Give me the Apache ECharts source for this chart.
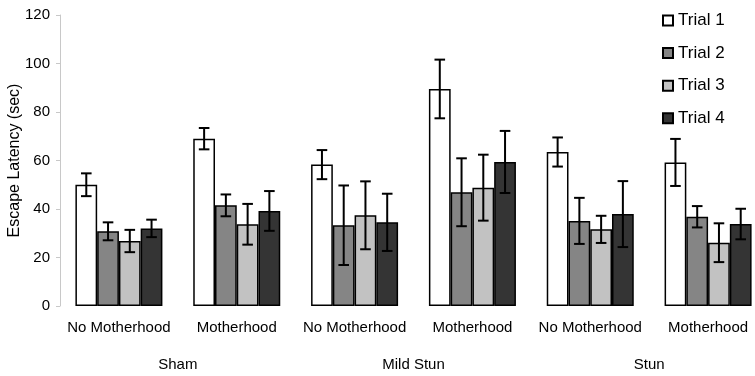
<!DOCTYPE html>
<html>
<head>
<meta charset="utf-8">
<script src="https://cdn.jsdelivr.net/npm/echarts@6/dist/echarts.min.js"></script>
<style>
html, body { margin: 0; padding: 0; background: #fff; }
#chart { width: 755px; height: 376px; }
</style>
</head>
<body>
<div id="chart"></div>
<script>
// conditions (lower axis) and groups (second row)
var categories = ['No Motherhood', 'Motherhood', 'No Motherhood', 'Motherhood', 'No Motherhood', 'Motherhood'];
var groups = ['Sham', 'Mild Stun', 'Stun'];
var trials = ['Trial 1', 'Trial 2', 'Trial 3', 'Trial 4'];
var yTicks = [0, 20, 40, 60, 80, 100, 120];

// mean escape latency and error (sec), per trial
var trial1 = [50, 69, 58.3, 89.5, 63.5, 59.2];
var trial1Err = [4.7, 4.4, 6, 12.1, 6, 9.7];
var trial2 = [30.8, 41.5, 33.3, 46.9, 35.1, 36.8];
var trial2Err = [3.7, 4.5, 16.4, 14, 9.5, 4.4];
var trial3 = [26.8, 33.7, 37.4, 48.8, 31.6, 26.1];
var trial3Err = [4.6, 8.4, 14, 13.6, 5.6, 8];
var trial4 = [32, 39.2, 34.5, 59.4, 37.9, 33.8];
var trial4Err = [3.6, 8.2, 11.8, 12.8, 13.6, 6.3];

var means = [trial1, trial2, trial3, trial4];
var errs = [trial1Err, trial2Err, trial3Err, trial4Err];
var colors = ['#ffffff', '#858585', '#c2c2c2', '#343434'];

var barFrac = 0.1846; // share of the band taken by one bar
var font = 'Arial, "Liberation Sans", sans-serif';

var errData = [];
for (var t = 0; t < 4; t++) {
    for (var i = 0; i < categories.length; i++) {
        errData.push([i, t, means[t][i] - errs[t][i], means[t][i] + errs[t][i]]);
    }
}

var series = [];
for (var t = 0; t < 4; t++) {
    series.push({
        name: trials[t],
        type: 'bar',
        xAxisIndex: 0,
        barWidth: (barFrac * 100) + '%',
        barGap: '0%',
        itemStyle: { color: colors[t], borderColor: '#000', borderWidth: 1.5 },
        data: means[t],
        silent: true
    });
}
series.push({
    type: 'custom',
    xAxisIndex: 0,
    silent: true,
    z: 10,
    data: errData,
    renderItem: function (params, api) {
        var idx = api.value(0);
        var t = api.value(1);
        var band = api.size([1, 0])[0];
        var bw = band * barFrac;
        var center = api.coord([idx, 0])[0];
        var x = center + (t - 1.5) * bw;
        var lo = api.coord([idx, api.value(2)])[1];
        var hi = api.coord([idx, api.value(3)])[1];
        var cap = 5.3;
        var st = { stroke: '#000', lineWidth: 2 };
        return {
            type: 'group',
            children: [
                { type: 'line', shape: { x1: x, y1: lo, x2: x, y2: hi }, style: st },
                { type: 'line', shape: { x1: x - cap, y1: lo, x2: x + cap, y2: lo }, style: st },
                { type: 'line', shape: { x1: x - cap, y1: hi, x2: x + cap, y2: hi }, style: st }
            ]
        };
    }
});

var chart = echarts.init(document.getElementById('chart'));
chart.setOption({
    animation: false,
    backgroundColor: '#fff',
    textStyle: { fontFamily: font },
    grid: { left: 60, right: -12, top: 15, bottom: 70, outerBoundsMode: 'none', containLabel: false },
    legend: {
        data: trials,
        orient: 'vertical',
        left: 662,
        top: 12,
        padding: 0,
        icon: 'rect',
        itemWidth: 10,
        itemHeight: 10,
        itemGap: 15.6,
        textStyle: { fontSize: 17, color: '#000', fontFamily: font }
    },
    xAxis: [
        {
            type: 'category',
            data: categories,
            position: 'bottom',
            axisLine: { show: false },
            axisTick: { show: false },
            axisLabel: { fontSize: 15, color: '#000', margin: 14, interval: 0, fontFamily: font }
        },
        {
            type: 'category',
            data: groups,
            position: 'bottom',
            axisLine: { show: false },
            axisTick: { show: false },
            axisLabel: { fontSize: 15, color: '#000', margin: 51, interval: 0, fontFamily: font }
        }
    ],
    yAxis: {
        type: 'value',
        min: yTicks[0],
        max: yTicks[yTicks.length - 1],
        interval: 20,
        name: 'Escape Latency (sec)',
        nameLocation: 'middle',
        nameGap: 37,
        nameMoveOverlap: false,
        nameTextStyle: { fontSize: 16, color: '#000', fontFamily: font },
        axisLine: { show: true, lineStyle: { color: '#c8c8c8', width: 1 } },
        axisTick: { show: true, length: 4, lineStyle: { color: '#c8c8c8' } },
        splitLine: { show: false },
        axisLabel: { fontSize: 15, color: '#000', margin: 10, fontFamily: font }
    },
    series: series
});
</script>
</body>
</html>
